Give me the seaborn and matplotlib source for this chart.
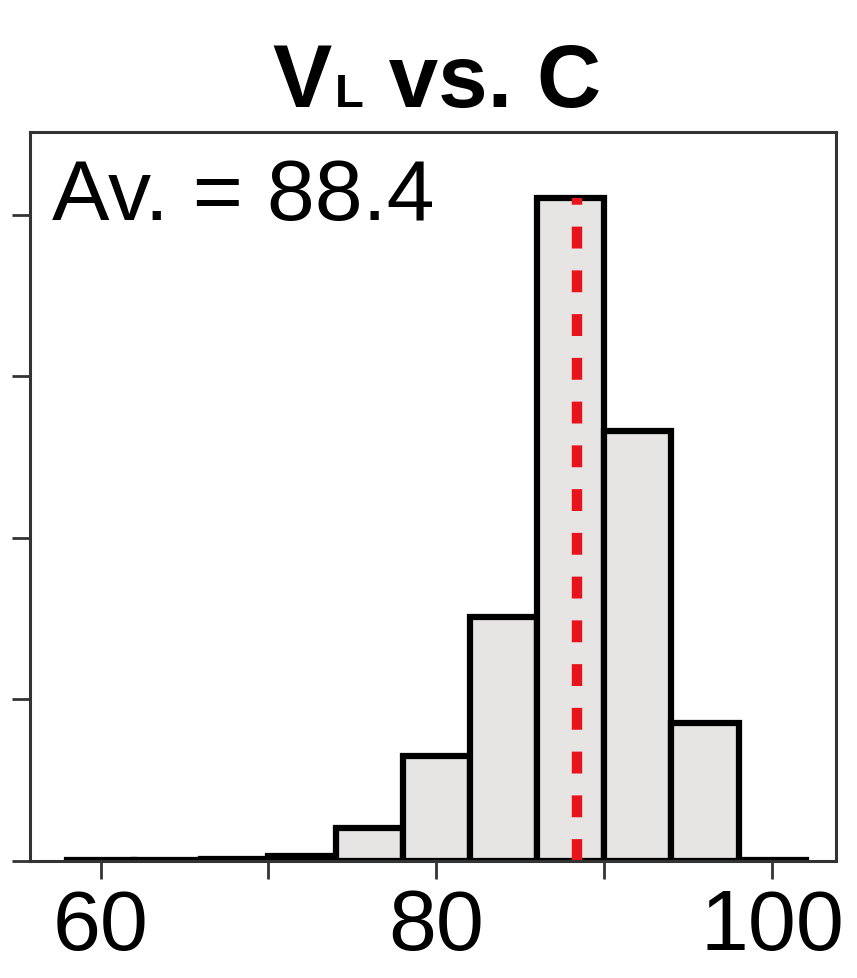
import numpy as np
import pandas as pd
import matplotlib
matplotlib.use("Agg")
import matplotlib.pyplot as plt
import seaborn as sns

# ---- data ----
bin_edges = [58, 62, 66, 70, 74, 78, 82, 86, 90, 94, 98, 102]
density = [0.00008, 0.00008, 0.00025, 0.0008, 0.0051, 0.01625, 0.03775,
           0.1026, 0.0665, 0.0214, 0.00015]
mean_value = 88.4
x_ticks = [60, 70, 80, 90, 100]
x_tick_labels = ["60", "", "80", "", "100"]
y_ticks = [0, 0.025, 0.05, 0.075, 0.1]
title_main = "V"
title_sub = "L"
title_rest = " vs. C"
avg_text = "Av. = 88.4"

sns.set_style("white")
plt.rcParams["font.family"] = ["Liberation Sans", "DejaVu Sans"]
plt.rcParams["text.color"] = "black"
plt.rcParams["xtick.color"] = "black"
plt.rcParams["ytick.color"] = "black"

centers = [(a + b) / 2 for a, b in zip(bin_edges[:-1], bin_edges[1:])]
df = pd.DataFrame({"x": centers, "w": density})

fig = plt.figure(figsize=(8.57, 9.79), dpi=100)
ax = fig.add_axes([0.035, 0.1195, 0.9405, 0.7446])

sns.histplot(data=df, x="x", weights="w", bins=bin_edges, stat="count",
             color="#e7e4e4", alpha=1, edgecolor="black", linewidth=4.5, ax=ax)

ax.plot([mean_value, mean_value], [0, max(density)], color="#e8141b",
        linewidth=7.5, dashes=(2.1, 2.1), solid_capstyle="butt",
        dash_capstyle="butt")

ax.set_xlim(55.8, 103.8)
ax.set_ylim(0, 0.1128)
ax.set_xticks(x_ticks)
ax.set_xticklabels(x_tick_labels)
ax.set_yticks(y_ticks)
ax.set_yticklabels([])
ax.set_xlabel("")
ax.set_ylabel("")

for s in ax.spines.values():
    s.set_visible(True)
    s.set_color("#333333")
    s.set_linewidth(2.2)

ax.tick_params(axis="x", direction="out", length=13, width=2, color="#333333",
               labelcolor="black", labelsize=62, pad=6, bottom=True)
ax.tick_params(axis="y", direction="out", length=13, width=2, color="#333333",
               left=True)

ax.text(0.027, 0.881, avg_text, transform=ax.transAxes, ha="left",
        va="baseline", fontsize=62, color="black")

# Title built from pieces: big V, small L on the same baseline, then " vs. C"
fig.canvas.draw()
renderer = fig.canvas.get_renderer()
base_y = 1 - 107 / 979
x0 = 272 / 857
t1 = fig.text(x0, base_y, title_main, ha="left", va="baseline",
              fontsize=64, fontweight="bold", color="black")
bb = t1.get_window_extent(renderer)
x1 = (bb.x1 + 4) / fig.bbox.width
t2 = fig.text(x1, base_y, title_sub, ha="left", va="baseline",
              fontsize=34, fontweight="bold", color="black")
bb2 = t2.get_window_extent(renderer)
x2 = (bb2.x1) / fig.bbox.width
fig.text(x2, base_y, title_rest, ha="left", va="baseline",
         fontsize=64, fontweight="bold", color="black")

fig.savefig("out.png", dpi=100)
